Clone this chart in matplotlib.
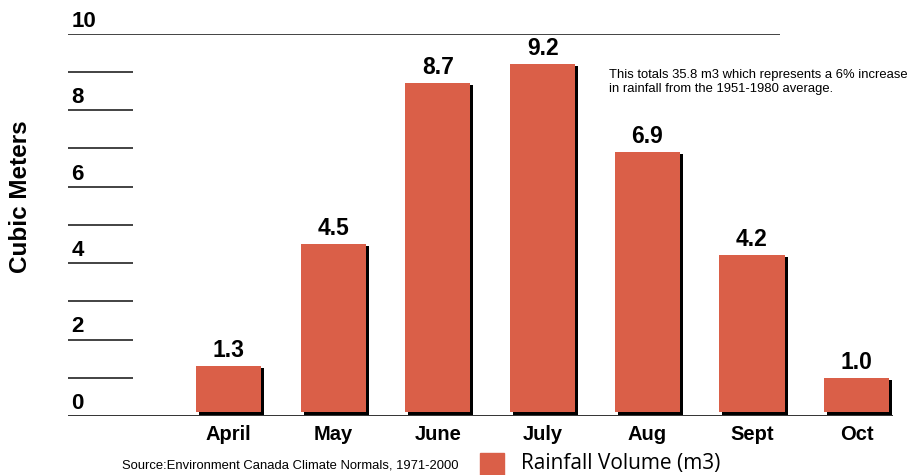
# Gráfico de barras: volumen de lluvia por mes
import numpy as np
import matplotlib.pyplot as plt

# Datos
meses = ['April', 'May', 'June', 'July', 'Aug', 'Sept', 'Oct']
volumen = [1.3, 4.5, 8.7, 9.2, 6.9, 4.2, 1.0]
ticks_y = [0, 2, 4, 6, 8, 10]
lineas_y = [1, 2, 3, 4, 5, 6, 7, 8, 9]

rojo = '#DA5F48'
fuente_bold = ['Liberation Sans', 'DejaVu Sans']
fuente_texto = ['Liberation Sans', 'DejaVu Sans']

fig = plt.figure(figsize=(9.11, 4.75), dpi=100)
# ejes colocados en píxeles: x 68..893, y 0 -> 416 px, 10 -> 33.5 px
ax = fig.add_axes([68 / 911, 59 / 475, (893 - 68) / 911, (441.5 - 59) / 475])
ax.set_xlim(-1.533, 6.347)
ax.set_ylim(0, 10)
ax.axis('off')

x = np.arange(len(meses))
ancho = 0.622
px_x = 1 / 104.67      # un píxel en unidades x
px_y = 10 / 382.5      # un píxel en unidades y

# Sombras negras y barras rojas
ax.bar(x + 3 * px_x, np.array(volumen) - 3 * px_y, width=ancho, bottom=px_y,
       color='black', zorder=2)
ax.bar(x, np.array(volumen) - 4 * px_y, width=ancho, bottom=4 * px_y,
       color=rojo, zorder=3)

# Líneas de guía
ax.hlines(lineas_y, -1.533, -0.912, color='#222222', lw=1.2, zorder=1)
ax.hlines(10, -1.533, 5.269, color='#222222', lw=1.2, zorder=1)
ax.hlines(0, -1.533, 6.347, color='#222222', lw=1.3, zorder=4)

# Etiquetas del eje y
for v in ticks_y:
    ax.text(-1.50, v + 2 * px_y, str(v), ha='left', va='bottom', fontsize=16,
            fontweight='bold', family=fuente_bold, clip_on=False)

# Valores encima de las barras
for xi, v in zip(x, volumen):
    ax.text(xi, v + 4 * px_y, f'{v:.1f}', ha='center', va='bottom', fontsize=16.5,
            fontweight='bold', family=fuente_bold, clip_on=False)

# Meses
for xi, m in zip(x, meses):
    fig.text((68 + (xi + 1.533) * 104.67) / 911, 1 - 435 / 475, m, ha='center',
             va='center', fontsize=14.5, fontweight='bold', family=fuente_bold)

fig.text(21 / 911, 1 - 197 / 475, 'Cubic Meters', rotation=90, ha='center',
         va='center', fontsize=17.5, fontweight='bold', family=fuente_bold)

fig.text(609 / 911, 1 - 82 / 475,
         'This totals 35.8 m3 which represents a 6% increase\n'
         'in rainfall from the 1951-1980 average.',
         ha='left', va='center', fontsize=9.4, family=fuente_texto,
         linespacing=1.15)

fig.text(122 / 911, 1 - 465 / 475,
         'Source:Environment Canada Climate Normals, 1971-2000',
         ha='left', va='center', fontsize=9.4, family=fuente_texto)

# Leyenda
fig.patches.append(plt.Rectangle((480 / 911, 1 - 475 / 475), 24 / 911, 22 / 475,
                                 transform=fig.transFigure, color=rojo))
fig.text(521 / 911, 1 - 463 / 475, 'Rainfall Volume (m3)', ha='left',
         va='center', fontsize=15, family='Open Sans')

fig.savefig('out.png', dpi=100)
